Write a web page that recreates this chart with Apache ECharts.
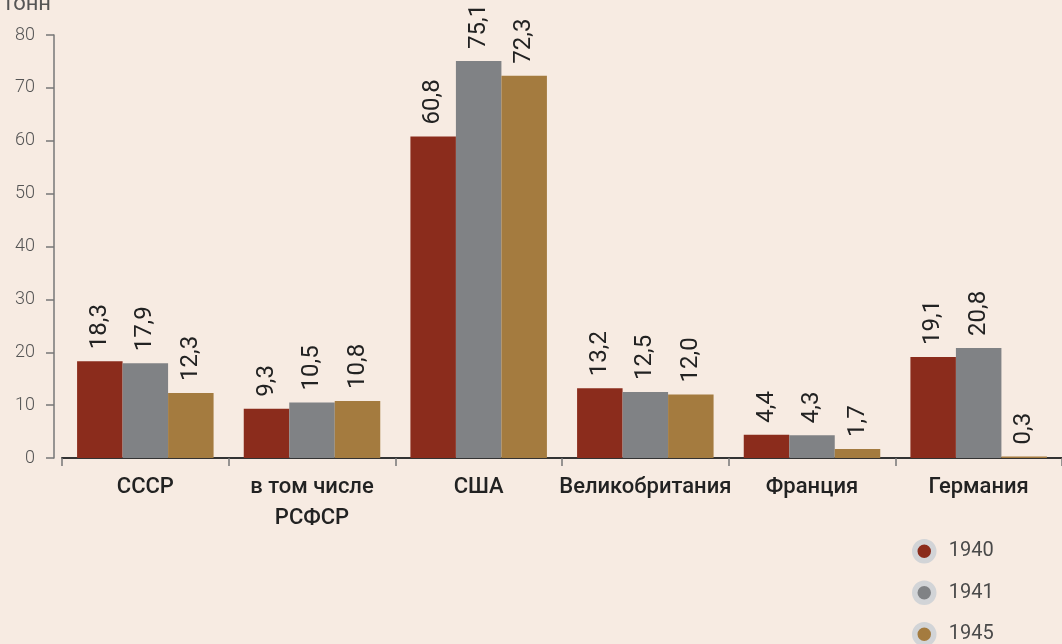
<!DOCTYPE html>
<html>
<head>
<meta charset="utf-8">
<script src="https://cdn.jsdelivr.net/npm/echarts@6/dist/echarts.min.js"></script>
<style>
  html, body { margin: 0; padding: 0; background: #f7ebe2; }
  #chart { width: 1062px; height: 644px; }
</style>
</head>
<body>
<div id="chart"></div>
<script>
// страны / регионы
const categories = ['СССР', 'в том числе\nРСФСР', 'США', 'Великобритания', 'Франция', 'Германия']
const years = ['1940', '1941', '1945']
const v1940 = [18.3, 9.3, 60.8, 13.2, 4.4, 19.1]
const v1941 = [17.9, 10.5, 75.1, 12.5, 4.3, 20.8]
const v1945 = [12.3, 10.8, 72.3, 12.0, 1.7, 0.3]
const colors = ['#8b2c1c', '#808285', '#a47b3f']

const chart = echarts.init(document.getElementById('chart'))

function makeSeries (name, data, color) {
  return {
    name: name,
    type: 'bar',
    data: data,
    barWidth: 45.5,
    barGap: '0%',
    itemStyle: { color: color },
    label: {
      show: true,
      position: 'top',
      rotate: 90,
      align: 'left',
      verticalAlign: 'middle',
      distance: 12,
      fontFamily: 'Roboto',
      fontSize: 24,
      color: '#222',
      formatter: p => p.value.toFixed(1).replace('.', ',')
    }
  }
}

const option = {
  backgroundColor: '#f7ebe2',
  animation: false,
  title: {
    text: 'тонн',
    left: -2,
    top: -12,
    textStyle: { fontFamily: 'Roboto', fontSize: 22, fontWeight: 'normal', color: '#555' }
  },
  legend: {
    data: years,
    orient: 'vertical',
    left: 907,
    top: 534,
    height: 200,
    itemGap: 17,
    icon: 'circle',
    itemWidth: 19,
    itemHeight: 19,
    itemStyle: { borderColor: '#d2d4d7', borderWidth: 5.5 },
    textStyle: { fontFamily: 'Roboto', fontSize: 20, fontWeight: 'normal', color: '#4a4a4a', padding: [0, 0, 0, 10] }
  },
  grid: {
    left: 62,
    right: 0,
    top: 35,
    bottom: 186,
    containLabel: false
  },
  xAxis: {
    type: 'category',
    data: categories,
    axisLine: { lineStyle: { color: '#333', width: 2 } },
    axisTick: { show: true, length: 8, lineStyle: { color: '#777', width: 1.5 } },
    axisLabel: {
      margin: 14,
      fontFamily: 'Roboto',
      fontSize: 22,
      fontWeight: 500,
      color: '#222',
      lineHeight: 31,
      interval: 0
    }
  },
  yAxis: {
    type: 'value',
    min: 0,
    max: 80,
    interval: 10,
    offset: 8,
    splitLine: { show: false },
    axisLine: { show: true, lineStyle: { color: '#777', width: 1.5 } },
    axisTick: { show: true, length: 8, lineStyle: { color: '#777', width: 1.5 } },
    axisLabel: { margin: 19, fontFamily: 'Roboto', fontSize: 18, fontWeight: 300, color: '#555' }
  },
  series: [
    makeSeries(years[0], v1940, colors[0]),
    makeSeries(years[1], v1941, colors[1]),
    makeSeries(years[2], v1945, colors[2])
  ]
}
chart.setOption(option)
</script>
</body>
</html>
